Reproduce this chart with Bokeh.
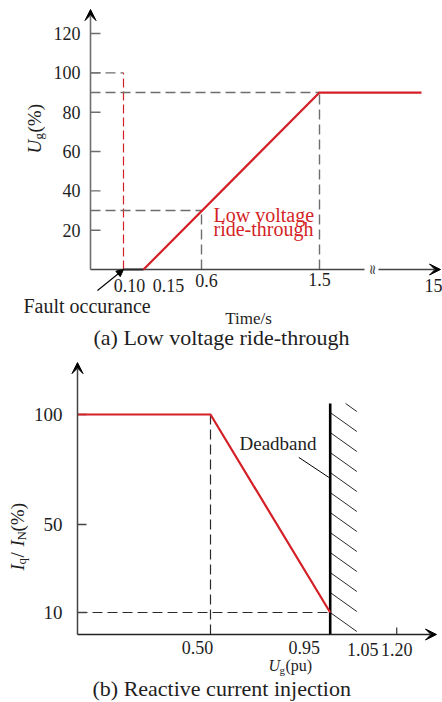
import numpy as np
from bokeh.plotting import figure
from bokeh.layouts import column
from bokeh.models import Arrow, VeeHead, NormalHead, Range1d
from bokeh.core.properties import value
from bokeh.embed import file_html
from bokeh.resources import INLINE

# ---------------- data: (a) low voltage ride-through ----------------
lvrt_time = [0.15, 1.5, 15]            # s
lvrt_volt = [0, 90, 90]                # U_g (%)
fault_time = 0.10                      # s
fault_period_time = [0.10, 0.15]
fault_period_volt = [0, 0]
prefault_volt = 100                    # %
level_time = [0.6, 1.5]                # s
level_volt = [30, 90]                  # %
a_yticks = [20, 40, 60, 80, 100, 120]
a_ytick_labels = ["20", "40", "60", "80", "100", "120"]
a_xtick_times = [0.10, 0.15, 0.6, 1.5, 15]
a_xtick_labels = ["0.10", "0.15", "0.6", "1.5", "15"]
# schematic (broken) time axis: time value -> drawing position
a_axis_times = [0.0, 0.10, 0.15, 0.6, 1.5, 15]
a_axis_pos = [0, 33, 53, 111, 229, 331]

# ---------------- data: (b) reactive current injection ----------------
rci_u = [0.0, 0.50, 0.95]              # U_g (pu)
rci_i = [100, 100, 10]                 # I_q / I_N (%)
deadband = [0.95, 1.05]                # pu
b_yticks = [10, 50, 100]
b_ytick_labels = ["10", "50", "100"]
b_xticks = [0.50, 0.95, 1.05, 1.20]
b_xtick_labels = ["0.50", "0.95", "1.05", "1.20"]

# ---------------- styles ----------------
FONT = "Liberation Serif"
TXT = "#1e1e1e"
RED = "#d41f27"
GRAY = "#6e6e6e"
DARK = "#2a2a2a"
W = 442
HA, HB = 352, 350

A_X = (-90, 352)
A_Y = (-42.2, 136.8)
B_X = (-77 / 266, (442 - 77) / 266)
B_Y = (-(350 - 282) / 2.2, 282 / 2.2)


def t2x(t):
    return np.interp(np.asarray(t, dtype=float), a_axis_times, a_axis_pos)


def txt(p, x, y, s, size, align="left", baseline="middle", color=TXT,
        style="normal", angle=0.0, xo=0, yo=0, font=FONT):
    p.text(x=[x], y=[y], text=[s], text_font=value(font),
           text_font_size=f"{size}px", text_align=align,
           text_baseline=baseline, text_color=color,
           text_font_style=style, angle=angle, x_offset=xo, y_offset=yo)


def base_fig(h, xr, yr):
    p = figure(width=W, height=h, x_range=Range1d(*xr), y_range=Range1d(*yr),
               x_axis_location=None, y_axis_location=None,
               toolbar_location=None, output_backend="svg", min_border=0)
    p.grid.visible = False
    p.outline_line_color = None
    p.background_fill_color = "white"
    p.border_fill_color = "white"
    return p


# ======================= (a) =======================
pa = base_fig(HA, A_X, A_Y)
ypx_a = HA / (A_Y[1] - A_Y[0])   # px per % unit

# dashed guides
xf = float(t2x(fault_time))
pa.line([0, xf], [prefault_volt, prefault_volt], line_color=GRAY,
        line_width=1.4, line_dash="10 5")
pa.line([xf, xf], [0, prefault_volt], line_color=RED, line_width=1.2,
        line_dash="9 4")
for t, v in zip(level_time, level_volt):
    xt = float(t2x(t))
    pa.line([0, xt], [v, v], line_color=GRAY, line_width=1.4, line_dash="10 5")
    pa.line([xt, xt], [0, v], line_color=GRAY, line_width=1.4, line_dash="10 5")

# axes
pa.segment(x0=[0] * len(a_yticks), y0=a_yticks, x1=[10] * len(a_yticks),
           y1=a_yticks, line_color=GRAY, line_width=1.4)
pa.add_layout(Arrow(end=VeeHead(size=11, fill_color="black", line_color="black"),
                    x_start=0, y_start=0, x_end=0, y_end=132.2,
                    line_color=GRAY, line_width=1.6))
pa.line([0, 274], [0, 0], line_color="#444444", line_width=1.4)
pa.add_layout(Arrow(end=VeeHead(size=11, fill_color="black", line_color="black"),
                    x_start=288, y_start=0, x_end=350, y_end=0,
                    line_color="#444444", line_width=1.4))
txt(pa, 281, 0, "\u2248", 14, align="center", angle=np.pi / 2,
    font="DejaVu Serif", color="#444444")

# curve
pa.line(t2x(fault_period_time), fault_period_volt, line_color=DARK, line_width=2.2)
pa.line(t2x(lvrt_time), lvrt_volt, line_color=RED, line_width=2.2)

# tick labels
pa.text(x=[0] * len(a_yticks), y=a_yticks, text=a_ytick_labels,
        text_font=value(FONT), text_font_size="18px", text_align="right",
        text_baseline="middle", text_color=TXT, x_offset=-10)
a_lab_dx = [6, 25, 5, 0, 12]
a_lab_dy = [16, 16, 11, 10, 16]
pa.text(x=t2x(a_xtick_times), y=[0] * len(a_xtick_times), text=a_xtick_labels,
        text_font=value(FONT), text_font_size="18px", text_align="center",
        text_baseline="middle", text_color=TXT, x_offset=a_lab_dx, y_offset=a_lab_dy)

# axis title (rotated)
ax_y = 59.0
txt(pa, -56, ax_y, "U", 19, style="italic", angle=np.pi / 2)
txt(pa, -56, ax_y, "g", 13, angle=np.pi / 2, xo=4, yo=-14)
txt(pa, -56, ax_y, "(%)", 19, angle=np.pi / 2, yo=-21)

# annotations
pa.add_layout(Arrow(end=NormalHead(size=7, fill_color="black", line_color="black"),
                    x_start=xf - 26, y_start=-21 / ypx_a, x_end=xf, y_end=0,
                    line_color="black", line_width=1.1))
txt(pa, -67, -18.3, "Fault occurance", 20)
txt(pa, 158, -24.9, "Time/s", 17, align="center")
txt(pa, 123, 27.5, "Low voltage", 20, color=RED)
txt(pa, 123, 20.6, "ride-through", 20, color=RED)
txt(pa, 3, -34.6, "(a) Low voltage ride-through", 22)

# ======================= (b) =======================
pb = base_fig(HB, B_X, B_Y)
xpx_b = W / (B_X[1] - B_X[0])   # px per pu
ypx_b = HB / (B_Y[1] - B_Y[0])  # px per % unit

# dashed guides
pb.line([0, rci_u[-1]], [rci_i[-1], rci_i[-1]], line_color=DARK, line_width=1.2,
        line_dash="10 5")
pb.line([rci_u[1], rci_u[1]], [0, rci_i[1]], line_color=DARK, line_width=1.2,
        line_dash="10 5")

# deadband hatch
band_top = 105.0
drop = 19 / ypx_b
step = 20 / ypx_b
starts = np.arange(rci_i[-1], band_top + drop, step)
xs0, ys0, xs1, ys1 = [], [], [], []
width = deadband[1] - deadband[0]
for s in starts:
    x0, y0 = deadband[0], s
    x1, y1 = deadband[1], s - drop
    if y0 > band_top:
        f = (y0 - band_top) / drop
        x0 = deadband[0] + f * width
        y0 = band_top
    xs0.append(x0); ys0.append(y0); xs1.append(x1); ys1.append(y1)
pb.segment(x0=xs0, y0=ys0, x1=xs1, y1=ys1, line_color=DARK, line_width=1.0)
pb.line([deadband[0], deadband[0]], [0, band_top], line_color="black", line_width=2.6)

# axes
pb.add_layout(Arrow(end=VeeHead(size=11, fill_color="black", line_color="black"),
                    x_start=0, y_start=0, x_end=0, y_end=123.6,
                    line_color="#444444", line_width=1.5))
pb.add_layout(Arrow(end=VeeHead(size=11, fill_color="black", line_color="black"),
                    x_start=0, y_start=0, x_end=1.3496, y_end=0,
                    line_color="#222222", line_width=1.5))
pb.segment(x0=[0] * len(b_yticks), y0=b_yticks, x1=[9 / xpx_b] * len(b_yticks),
           y1=b_yticks, line_color="#444444", line_width=1.3)
pb.segment(x0=[b_xticks[-1]], y0=[0], x1=[b_xticks[-1]], y1=[7 / ypx_b],
           line_color="#444444", line_width=1.3)

# curve
pb.line(rci_u, rci_i, line_color=RED, line_width=2.2)

# tick labels
pb.text(x=[0] * len(b_yticks), y=b_yticks, text=b_ytick_labels,
        text_font=value(FONT), text_font_size="19px", text_align="right",
        text_baseline="middle", text_color=TXT, x_offset=-15)
b_lab_dx = [-13, -26, 6, 0]
b_lab_dy = [13, 13, 15, 15]
pb.text(x=b_xticks, y=[0] * len(b_xticks), text=b_xtick_labels,
        text_font=value(FONT), text_font_size="18px", text_align="center",
        text_baseline="middle", text_color=TXT, x_offset=b_lab_dx, y_offset=b_lab_dy)

# axis titles
bx, by = 0.718, -14.1
txt(pb, bx, by, "U", 16, style="italic")
txt(pb, bx, by, "g", 11, xo=11, yo=4)
txt(pb, bx, by, "(pu)", 16, xo=17)

lx, ly = -0.2256, 29.1
txt(pb, lx, ly, "I", 19, style="italic", angle=np.pi / 2)
txt(pb, lx, ly, "q", 13, angle=np.pi / 2, xo=4, yo=-6)
txt(pb, lx, ly, " /", 19, angle=np.pi / 2, yo=-13)
txt(pb, lx, ly, "I", 19, style="italic", angle=np.pi / 2, yo=-24)
txt(pb, lx, ly, "N", 13, angle=np.pi / 2, xo=4, yo=-30)
txt(pb, lx, ly, "(%)", 19, angle=np.pi / 2, yo=-39)

# deadband label
txt(pb, 0.609, 86.8, "Deadband", 19)
pb.line([deadband[0] - 0.118, deadband[0] - 0.005], [80.5, 71.4],
        line_color="black", line_width=1.0)

txt(pb, 0.0564, -24.5, "(b) Reactive current injection", 22)

layout = column(pa, pb)
open("out.html", "w").write(file_html(layout, INLINE))
